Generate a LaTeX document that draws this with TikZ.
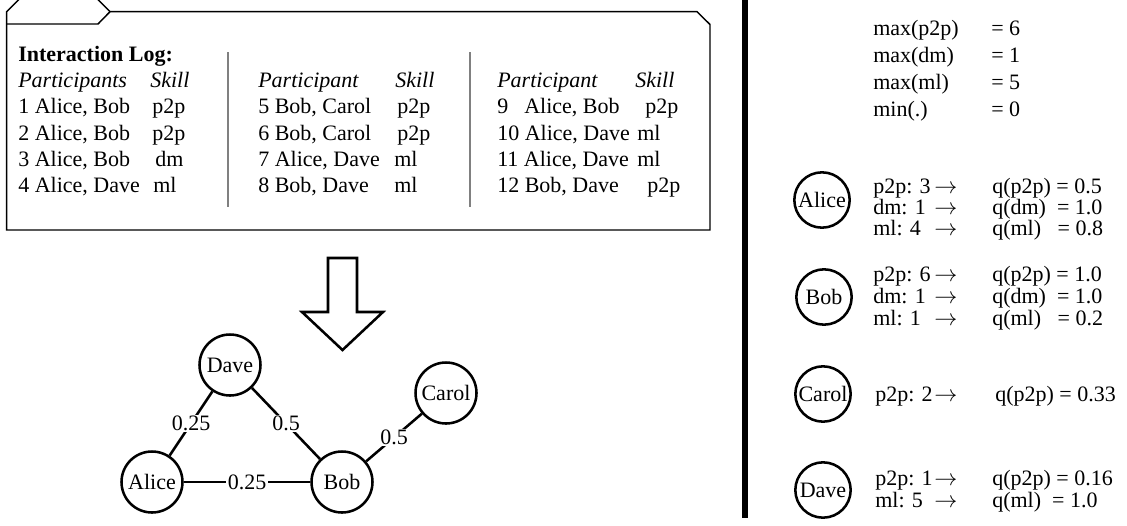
\documentclass[tikz,border=0pt]{standalone}
\usepackage{fontspec}
\setmainfont{Liberation Serif}
\begin{document}
\begin{tikzpicture}[x=0.75pt,y=-0.75pt,
  fnt/.style={font=\fontsize{16.5}{19}\selectfont},
  txt/.style={fnt,anchor=base west,inner sep=0pt},
  gnode/.style={fnt,circle,draw,line width=1.9pt,minimum size=45.75pt,inner sep=0pt},
  rnode/.style={fnt,circle,draw,line width=1.9pt,minimum size=41.5pt,inner sep=0pt},
  gedge/.style={line width=1.9pt},
  elabel/.style={fnt,fill=white,inner sep=1pt},
  boxline/.style={line width=1.1pt},
  divider/.style={line width=1.5pt,draw=gray}
]
\useasboundingbox (0,0) rectangle (1127,525);
% folder box
\draw[boxline,line join=miter] (6.7,230) -- (6.7,11.7) -- (19.4,-1) -- (97.3,-1) -- (110,11.7) -- (697,11.7) -- (710,24.5) -- (710,230) -- cycle;
\draw[boxline] (6.7,24) -- (98,24) -- (110,11.7);
\draw[divider] (228,52) -- (228,207);
\draw[divider] (470,52) -- (470,207);
% column 1
\node[txt] (title) at (18,61) {\textbf{Interaction Log:}};
\node[txt] (h1a) at (18,87) {\textit{Participants}};
\node[txt] (h1b) at (150,87) {\textit{Skill}};
\node[txt] (r1a) at (18,113) {1 Alice, Bob};
\node[txt] (r1b) at (152,113) {p2p};
\node[txt] (r2a) at (18,140) {2 Alice, Bob};
\node[txt] (r2b) at (152,140) {p2p};
\node[txt] (r3a) at (18,166) {3 Alice, Bob};
\node[txt] (r3b) at (155,166) {dm};
\node[txt] (r4a) at (18,192) {4 Alice, Dave};
\node[txt] (r4b) at (153,192) {ml};
% column 2
\node[txt] (h2a) at (258,87) {\textit{Participant}};
\node[txt] (h2b) at (395,87) {\textit{Skill}};
\node[txt] (r5a) at (258,113) {5 Bob, Carol};
\node[txt] (r5b) at (397,113) {p2p};
\node[txt] (r6a) at (258,140) {6 Bob, Carol};
\node[txt] (r6b) at (397,140) {p2p};
\node[txt] (r7a) at (258,166) {7 Alice, Dave};
\node[txt] (r7b) at (394,166) {ml};
\node[txt] (r8a) at (258,192) {8 Bob, Dave};
\node[txt] (r8b) at (394,192) {ml};
% column 3
\node[txt] (h3a) at (497,87) {\textit{Participant}};
\node[txt] (h3b) at (635,87) {\textit{Skill}};
\node[txt] (r9n) at (497,113) {9};
\node[txt] (r9a) at (524,113) {Alice, Bob};
\node[txt] (r9b) at (645,113) {p2p};
\node[txt] (r10a) at (497,140) {10 Alice, Dave};
\node[txt] (r10b) at (637,140) {ml};
\node[txt] (r11a) at (497,166) {11 Alice, Dave};
\node[txt] (r11b) at (637,166) {ml};
\node[txt] (r12a) at (497,192) {12 Bob, Dave};
\node[txt] (r12b) at (647,192) {p2p};
% hollow arrow
\draw[line width=1.9pt,line join=miter] (328,258) -- (357,258) -- (357,312) -- (383,312) -- (342.5,350) -- (302,312) -- (328,312) -- cycle;
% graph
\node[gnode] (gA) at (152,482) {Alice};
\node[gnode] (gB) at (342,482) {Bob};
\node[gnode] (gD) at (230,365) {Dave};
\node[gnode] (gC) at (446,393) {Carol};
\draw[gedge] (gA) -- node[elabel] (lAD) {0.25} (gD);
\draw[gedge] (gD) -- node[elabel] (lDB) {0.5} (gB);
\draw[gedge] (gA) -- node[elabel] (lAB) {0.25} (gB);
\draw[gedge] (gB) -- node[elabel] (lBC) {0.5} (gC);
% separator
\draw[line width=4.5pt] (745,0) -- (745,518);
% max block
\node[txt] (m1) at (873,35) {max(p2p)};
\node[txt] (m1v) at (991,35) {= 6};
\node[txt] (m2) at (873,62) {max(dm)};
\node[txt] (m2v) at (991,62) {= 1};
\node[txt] (m3) at (873,89) {max(ml)};
\node[txt] (m3v) at (991,89) {= 5};
\node[txt] (m4) at (873,116) {min(.)};
\node[txt] (m4v) at (991,116) {= 0};
% Alice
\node[rnode] (rA) at (822,200) {Alice};
\node[txt] (a1) at (873,193) {p2p: 3};
\node[txt] (a1r) at (934,193) {$\rightarrow$};
\node[txt] (a1q) at (992,193) {q(p2p) = 0.5};
\node[txt] (a2) at (873,214) {dm: 1};
\node[txt] (a2r) at (934,214) {$\rightarrow$};
\node[txt] (a2q) at (992,214) {q(dm)\ \ = 1.0};
\node[txt] (a3) at (873,235) {ml: 4};
\node[txt] (a3r) at (934,235) {$\rightarrow$};
\node[txt] (a3q) at (992,235) {q(ml)\ \ \ = 0.8};
% Bob
\node[rnode] (rB) at (824,297) {Bob};
\node[txt] (b1) at (873,281) {p2p: 6};
\node[txt] (b1r) at (934,281) {$\rightarrow$};
\node[txt] (b1q) at (992,281) {q(p2p) = 1.0};
\node[txt] (b2) at (873,303) {dm: 1};
\node[txt] (b2r) at (934,303) {$\rightarrow$};
\node[txt] (b2q) at (992,303) {q(dm)\ \ = 1.0};
\node[txt] (b3) at (873,325) {ml: 1};
\node[txt] (b3r) at (934,325) {$\rightarrow$};
\node[txt] (b3q) at (992,325) {q(ml)\ \ \ = 0.2};
% Carol
\node[rnode] (rC) at (823,394) {Carol};
\node[txt] (c1) at (875,401) {p2p: 2};
\node[txt] (c1r) at (934,401) {$\rightarrow$};
\node[txt] (c1q) at (995,401) {q(p2p) = 0.33};
% Dave
\node[rnode] (rD) at (823,490) {Dave};
\node[txt] (d1) at (875,485) {p2p: 1};
\node[txt] (d1r) at (934,485) {$\rightarrow$};
\node[txt] (d1q) at (992,485) {q(p2p) = 0.16};
\node[txt] (d2) at (875,507) {ml: 5};
\node[txt] (d2r) at (934,507) {$\rightarrow$};
\node[txt] (d2q) at (992,507) {q(ml)\ \ = 1.0};
\end{tikzpicture}
\end{document}
